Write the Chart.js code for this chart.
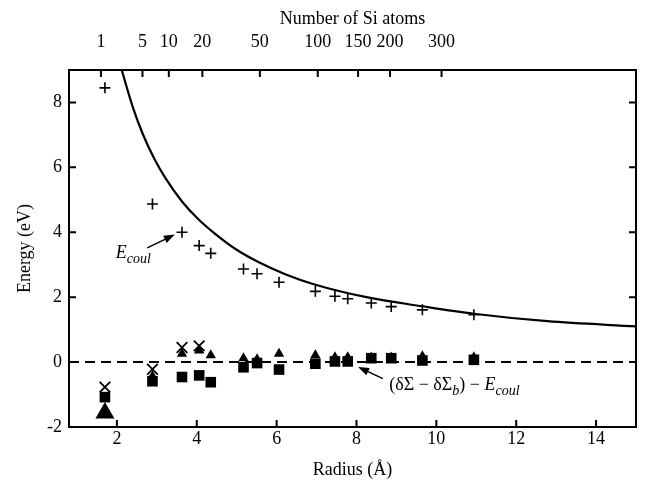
<!DOCTYPE html>
<html>
<head>
<meta charset="utf-8">
<script src="https://cdn.jsdelivr.net/npm/chart.js@4.4.1/dist/chart.umd.min.js"></script>
<style>
  body { margin: 0; background: #fff; }
  canvas { display: block; }
</style>
</head>
<body>
<canvas id="energyChart" width="647" height="482"></canvas>
<script>
// cluster radii (Å) where the points were computed
const radius = [1.70, 2.89, 3.63, 4.06, 4.35, 5.17, 5.51, 6.06, 6.97, 7.46, 7.78, 8.37, 8.87, 9.65, 10.94];
// E_coul points (+)
const ecoul = [8.45, 4.87, 4.00, 3.59, 3.35, 2.87, 2.72, 2.46, 2.18, 2.03, 1.95, 1.82, 1.71, 1.61, 1.46];
// (dS - dS_b) - E_coul, three variants
const crossVals = [-0.77, -0.22, 0.45, 0.50];
const triVals = [-1.57, -0.44, 0.26, 0.36, 0.21, 0.12, 0.09, 0.26, 0.21, 0.15, 0.15, 0.14, 0.14, 0.18, 0.15];
const sqVals = [-1.08, -0.59, -0.46, -0.41, -0.62, -0.16, -0.03, -0.23, -0.05, 0.02, 0.02, 0.12, 0.12, 0.05, 0.07];

// solid curve
const curveR = [2.12, 2.40, 2.64, 2.93, 3.22, 3.63, 4.04, 4.46, 4.95, 5.53, 6.23, 6.93, 8.25, 9.65, 10.94, 12.78, 15.0];
const curveE = [9.0, 7.85, 7.05, 6.28, 5.66, 4.95, 4.40, 3.95, 3.50, 3.09, 2.70, 2.40, 2.00, 1.72, 1.49, 1.26, 1.10];

// axes
const xMin = 0.8, xMax = 15, yMin = -2, yMax = 9;
const radiusTicks = [2, 4, 6, 8, 10, 12, 14];
const energyTicks = [-2, 0, 2, 4, 6, 8];
const atomCounts = [1, 5, 10, 20, 50, 100, 150, 200, 300];
const atomRadii = [1.60, 2.64, 3.30, 4.14, 5.58, 7.03, 8.04, 8.84, 10.13];

const SERIF = '"Liberation Serif", "Times New Roman", serif';
const font = { family: SERIF, size: 18 };

const pts = (xs, ys) => ys.map((v, i) => ({ x: xs[i], y: v }));

function drawArrow(ctx, x1, y1, x2, y2) {
  const ang = Math.atan2(y2 - y1, x2 - x1);
  const len = 11, half = 4;
  ctx.beginPath();
  ctx.moveTo(x1, y1);
  ctx.lineTo(x2 - Math.cos(ang) * len, y2 - Math.sin(ang) * len);
  ctx.stroke();
  ctx.beginPath();
  ctx.moveTo(x2, y2);
  ctx.lineTo(x2 - Math.cos(ang) * len - Math.sin(ang) * half, y2 - Math.sin(ang) * len + Math.cos(ang) * half);
  ctx.lineTo(x2 - Math.cos(ang) * len + Math.sin(ang) * half, y2 - Math.sin(ang) * len - Math.cos(ang) * half);
  ctx.closePath();
  ctx.fill();
}

function drawRich(ctx, x0, y0, parts) {
  let cx = x0;
  parts.forEach(p => {
    ctx.font = (p.italic ? 'italic ' : '') + p.size + 'px ' + SERIF;
    ctx.fillText(p.text, cx, y0 + (p.dy || 0));
    cx += ctx.measureText(p.text).width + (p.gap || 0);
  });
}

const annotations = {
  id: 'annotations',
  afterDatasetsDraw(chart) {
    const { ctx, scales: { x, y } } = chart;
    ctx.save();
    ctx.fillStyle = '#000';
    ctx.strokeStyle = '#000';
    ctx.lineWidth = 1.5;
    ctx.textBaseline = 'alphabetic';
    drawArrow(ctx, x.getPixelForValue(2.76), y.getPixelForValue(3.52), x.getPixelForValue(3.45), y.getPixelForValue(3.93));
    drawRich(ctx, x.getPixelForValue(1.97), y.getPixelForValue(3.22), [
      { text: 'E', italic: true, size: 18 },
      { text: 'coul', italic: true, size: 14, dy: 5 }
    ]);
    drawArrow(ctx, x.getPixelForValue(8.66), y.getPixelForValue(-0.51), x.getPixelForValue(8.04), y.getPixelForValue(-0.15));
    drawRich(ctx, x.getPixelForValue(8.82), y.getPixelForValue(-0.87), [
      { text: '(δΣ − δΣ', size: 18 },
      { text: 'b', italic: true, size: 14, dy: 5 },
      { text: ') − ', size: 18 },
      { text: 'E', italic: true, size: 18 },
      { text: 'coul', italic: true, size: 14, dy: 5 }
    ]);
    ctx.restore();
  }
};

const frame = {
  id: 'frame',
  afterDraw(chart) {
    const { ctx, chartArea: a, scales } = chart;
    ctx.save();
    ctx.strokeStyle = '#000';
    ctx.lineWidth = 2;
    ctx.strokeRect(a.left, a.top, a.right - a.left, a.bottom - a.top);
    const tl = 7;
    ctx.beginPath();
    scales.x.ticks.forEach(t => {
      const px = scales.x.getPixelForValue(t.value);
      ctx.moveTo(px, a.bottom); ctx.lineTo(px, a.bottom - tl);
    });
    scales.x2.ticks.forEach(t => {
      const px = scales.x2.getPixelForValue(t.value);
      ctx.moveTo(px, a.top); ctx.lineTo(px, a.top + tl);
    });
    scales.y.ticks.forEach(t => {
      const py = scales.y.getPixelForValue(t.value);
      ctx.moveTo(a.left, py); ctx.lineTo(a.left + tl, py);
      ctx.moveTo(a.right, py); ctx.lineTo(a.right - tl, py);
    });
    ctx.stroke();
    ctx.restore();
  }
};

const noGrid = { display: false, drawTicks: false };

new Chart(document.getElementById('energyChart'), {
  type: 'scatter',
  data: {
    datasets: [
      {
        label: 'crosses',
        data: pts(radius, crossVals),
        pointStyle: 'crossRot',
        pointRadius: 7.5,
        borderColor: '#000',
        pointBorderWidth: 1.8,
        order: 1
      },
      {
        label: 'triangles',
        data: pts(radius, triVals),
        pointStyle: 'triangle',
        pointRadius: ctx => ctx.dataIndex === 0 ? 11 : 6,
        backgroundColor: '#000',
        borderColor: '#000',
        pointBorderWidth: 0,
        order: 2
      },
      {
        label: 'squares',
        data: pts(radius, sqVals),
        pointStyle: 'rect',
        pointRadius: 7.5,
        backgroundColor: '#000',
        borderColor: '#000',
        pointBorderWidth: 0,
        order: 3
      },
      {
        label: 'E_coul',
        data: pts(radius, ecoul),
        pointStyle: 'cross',
        pointRadius: 5.5,
        borderColor: '#000',
        pointBorderWidth: 1.6,
        order: 4
      },
      {
        label: 'curve',
        data: pts(curveR, curveE),
        showLine: true,
        cubicInterpolationMode: 'monotone',
        borderColor: '#000',
        borderWidth: 2.2,
        pointRadius: 0,
        order: 5
      },
      {
        label: 'zero',
        data: [{ x: xMin, y: 0 }, { x: xMax, y: 0 }],
        showLine: true,
        borderColor: '#000',
        borderWidth: 2,
        borderDash: [10, 6],
        pointRadius: 0,
        order: 6
      }
    ]
  },
  options: {
    responsive: false,
    animation: false,
    devicePixelRatio: 1,
    layout: { padding: { left: 0, right: 4, top: 0, bottom: 0 } },
    plugins: { legend: { display: false }, tooltip: { enabled: false } },
    scales: {
      x: {
        type: 'linear',
        position: 'bottom',
        min: xMin, max: xMax,
        afterBuildTicks: s => { s.ticks = radiusTicks.map(v => ({ value: v })); },
        afterFit: s => { s.height = 55; },
        grid: noGrid,
        border: { display: false },
        ticks: { font, color: '#000', padding: 1, maxRotation: 0, autoSkip: false },
        title: { display: true, text: 'Radius (Å)', font, color: '#000', padding: { top: 0, bottom: 1 } }
      },
      x2: {
        type: 'linear',
        position: 'top',
        min: xMin, max: xMax,
        afterBuildTicks: s => { s.ticks = atomRadii.map(v => ({ value: v })); },
        afterFit: s => { s.height = 70; },
        grid: noGrid,
        border: { display: false },
        ticks: { font, color: '#000', padding: 17, maxRotation: 0, autoSkip: false, callback: (v, i) => atomCounts[i] },
        title: { display: true, text: 'Number of Si atoms', font, color: '#000', padding: { top: 8, bottom: 0 } }
      },
      y: {
        type: 'linear',
        min: yMin, max: yMax,
        afterBuildTicks: s => { s.ticks = energyTicks.map(v => ({ value: v })); },
        afterFit: s => { s.width = 69; },
        grid: noGrid,
        border: { display: false },
        ticks: { font, color: '#000', padding: 7 },
        title: { display: true, text: 'Energy (eV)', font, color: '#000', padding: { top: 14, bottom: 0 } }
      }
    }
  },
  plugins: [annotations, frame]
});
</script>
</body>
</html>
